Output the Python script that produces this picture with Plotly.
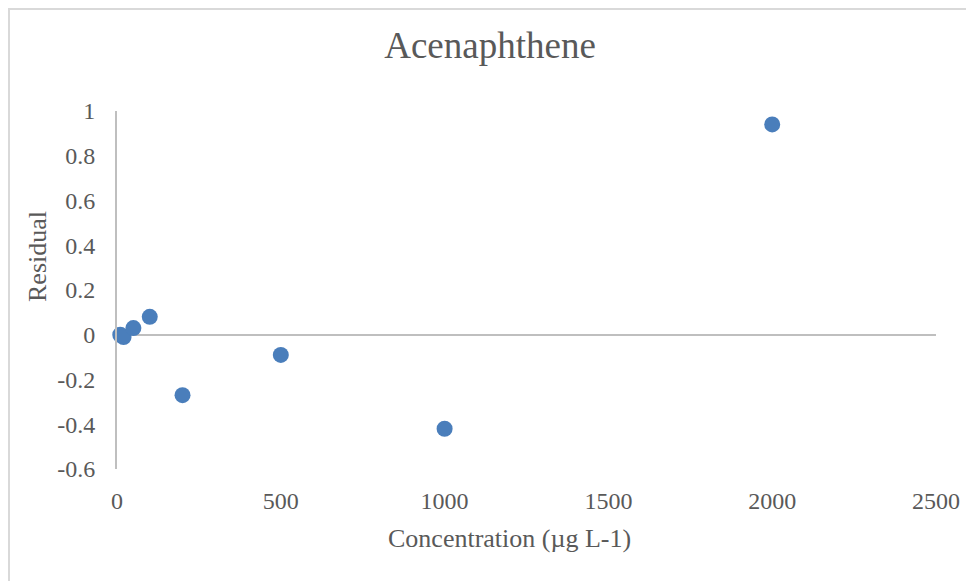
import plotly.graph_objects as go

concentration = [10, 20, 50, 100, 200, 500, 1000, 2000]
residual = [0.0, -0.01, 0.03, 0.08, -0.27, -0.09, -0.42, 0.94]

x_ticks = [0, 500, 1000, 1500, 2000, 2500]
y_ticks = [-0.6, -0.4, -0.2, 0, 0.2, 0.4, 0.6, 0.8, 1]
y_tick_text = ["-0.6", "-0.4", "-0.2", "0", "0.2", "0.4", "0.6", "0.8", "1"]

W, H = 966, 581
ml, mr, mt, mb = 117, 30, 111, 112
pw, ph = W - ml - mr, H - mt - mb

def px_to_paper_x(px):
    return (px - ml) / pw

def py_to_paper_y(py):
    return (H - mb - py) / ph

FONT = "Liberation Serif, Times New Roman, serif"
TXT = "#595959"
AX = "#bfbfbf"

fig = go.Figure()
fig.add_trace(go.Scatter(
    x=concentration, y=residual, mode="markers",
    marker=dict(color="#4a7ebb", size=16, line=dict(width=0)),
    showlegend=False, cliponaxis=False,
))

fig.update_layout(
    width=W, height=H,
    margin=dict(l=ml, r=mr, t=mt, b=mb, autoexpand=False),
    paper_bgcolor="white", plot_bgcolor="white",
    font=dict(family=FONT, color=TXT),
    title=dict(text="Acenaphthene", x=490 / W, xanchor="center",
               xref="container", y=(H - 45) / H, yanchor="middle",
               font=dict(size=37, color=TXT, family=FONT)),
    xaxis=dict(range=[0, 2500], tickvals=x_ticks, showgrid=False,
               zeroline=False, showline=False, ticks="", automargin=False,
               ticklabelstandoff=15, ticklabeloverflow="allow",
               tickfont=dict(size=24, color=TXT, family=FONT)),
    yaxis=dict(range=[-0.6, 1], tickvals=y_ticks, ticktext=y_tick_text,
               showgrid=False, zeroline=True, zerolinecolor=AX, zerolinewidth=2,
               showline=True, linecolor=AX, linewidth=2, ticks="", automargin=False,
               ticklabelstandoff=15,
               tickfont=dict(size=24, color=TXT, family=FONT)),
    shapes=[dict(type="rect", xref="paper", yref="paper",
                 x0=px_to_paper_x(9), x1=px_to_paper_x(990),
                 y0=py_to_paper_y(600), y1=py_to_paper_y(9),
                 line=dict(color="#d9d9d9", width=2), fillcolor="rgba(0,0,0,0)",
                 layer="below")],
    annotations=[
        dict(text="Residual", xref="paper", yref="paper",
             x=px_to_paper_x(37), y=py_to_paper_y(257),
             xanchor="center", yanchor="middle", textangle=-90,
             showarrow=False,
             font=dict(size=26, color=TXT, family=FONT)),
        dict(text="Concentration (µg L-1)", xref="paper", yref="paper",
             x=px_to_paper_x(509), y=py_to_paper_y(538),
             xanchor="center", yanchor="middle",
             showarrow=False,
             font=dict(size=26, color=TXT, family=FONT)),
    ],
)

fig.write_html("out.html")
